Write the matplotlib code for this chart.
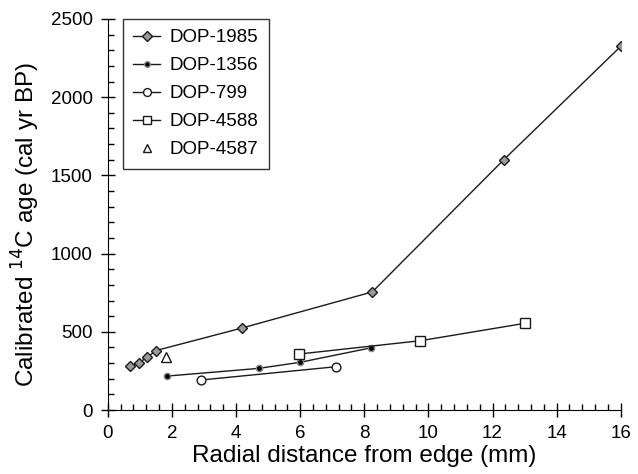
import matplotlib.pyplot as plt
from matplotlib.ticker import MultipleLocator

plt.rcParams['font.family'] = ['Liberation Sans', 'DejaVu Sans']

# data
x_1985 = [0.7, 0.97, 1.23, 1.5, 4.2, 8.25, 12.35, 16.0]
y_1985 = [280, 302, 337, 380, 525, 755, 1600, 2325]
x_1356 = [1.85, 4.7, 6.0, 8.22]
y_1356 = [217, 266, 305, 398]
x_799 = [2.92, 7.13]
y_799 = [192, 277]
x_4588 = [5.97, 9.75, 13.0]
y_4588 = [358, 443, 554]
x_4587 = [1.81]
y_4587 = [337]

fig = plt.figure(figsize=(6.38, 4.74), dpi=100)
ax = fig.add_axes([0.169, 0.135, 0.804, 0.825])

lc = '#1a1a1a'
ax.plot(x_1985, y_1985, color=lc, lw=1, marker='D', ms=5.5, mfc='#9a9a9a', mec=lc, mew=1, label='DOP-1985')
ax.plot(x_1356, y_1356, color=lc, lw=1, marker='o', ms=4.5, mfc='black', mec='#888888', mew=1, label='DOP-1356')
ax.plot(x_799, y_799, color=lc, lw=1, marker='o', ms=6.3, mfc='white', mec=lc, mew=1, label='DOP-799')
ax.plot(x_4588, y_4588, color=lc, lw=1, marker='s', ms=6.5, mfc='white', mec=lc, mew=1, label='DOP-4588')
ax.plot(x_4587, y_4587, ls='none', marker='^', ms=6.5, mfc='white', mec=lc, mew=1, label='DOP-4587')

ax.set_xlim(0, 16)
ax.set_ylim(0, 2500)
ax.xaxis.set_major_locator(MultipleLocator(2))
ax.xaxis.set_minor_locator(MultipleLocator(0.4))
ax.yaxis.set_major_locator(MultipleLocator(500))
ax.yaxis.set_minor_locator(MultipleLocator(100))
ax.tick_params(which='major', direction='inout', length=10, width=1, labelsize=13.5)
ax.tick_params(which='minor', direction='in', length=4, width=1)
ax.tick_params(axis='x', which='major', pad=6)
ax.tick_params(axis='y', which='major', pad=6)
ax.spines['top'].set_visible(False)
ax.spines['right'].set_visible(False)

ax.set_xlabel('Radial distance from edge (mm)', fontsize=17.5, labelpad=2)
ax.set_ylabel('Calibrated $^{14}$C age (cal yr BP)', fontsize=17.5)
ax.yaxis.set_label_coords(-0.128, 0.475)

leg = ax.legend(loc='upper left', bbox_to_anchor=(0.029, 1.0), borderaxespad=0, fontsize=13.5,
                frameon=True, fancybox=False, edgecolor='black', handlelength=1.45,
                handletextpad=0.5, labelspacing=0.58, borderpad=0.55)
leg.get_frame().set_linewidth(1)
for h in leg.legend_handles:
    h.set_markersize(h.get_markersize() * 0.9)

fig.savefig('out.png')
